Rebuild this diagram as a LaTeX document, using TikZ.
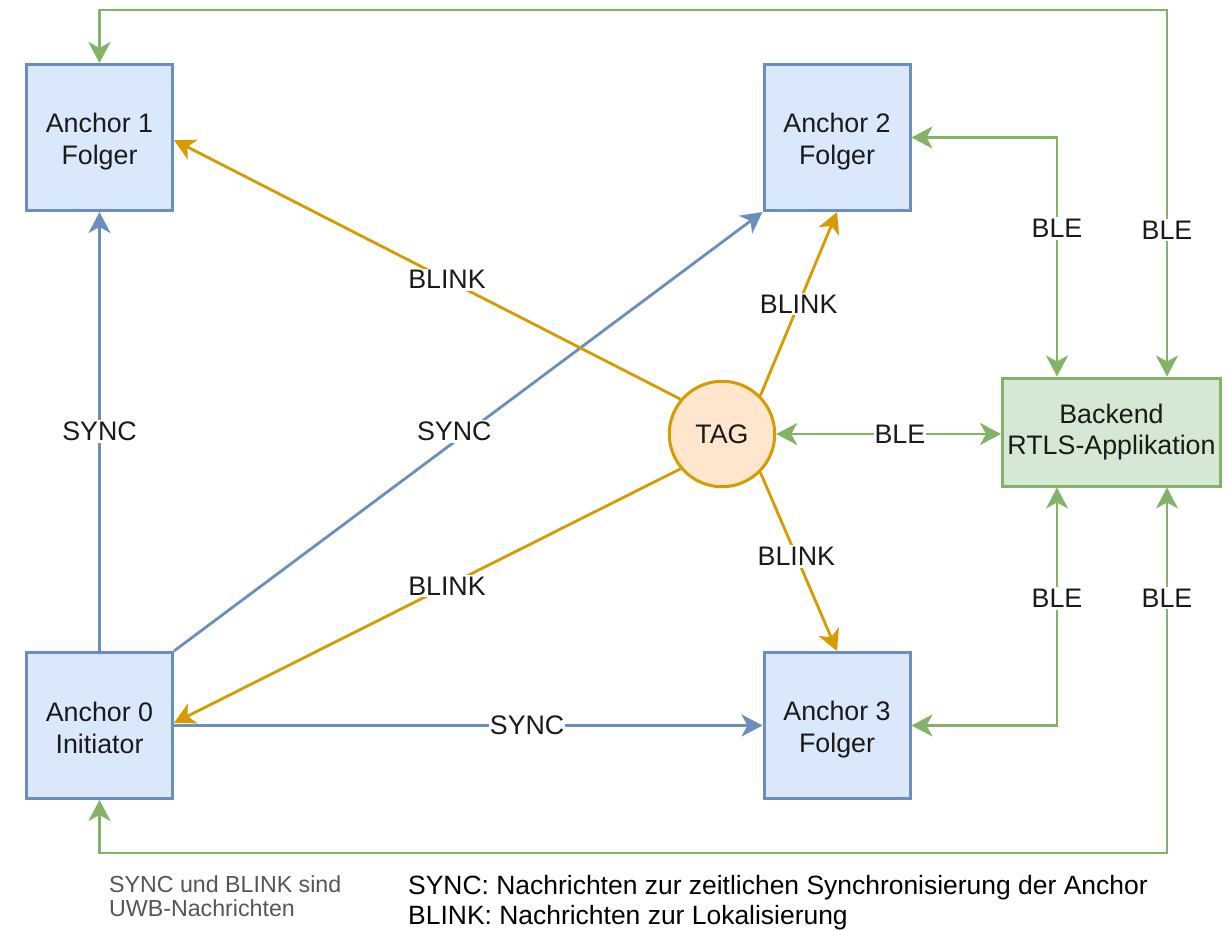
\documentclass[tikz,border=0pt]{standalone}
\usepackage{fontspec}
\setmainfont{Liberation Sans}
\usetikzlibrary{arrows.meta}

\definecolor{anchorfill}{HTML}{DAE8FC}
\definecolor{anchorline}{HTML}{6C8EBF}
\definecolor{appfill}{HTML}{D5E8D4}
\definecolor{appline}{HTML}{82B366}
\definecolor{tagfill}{HTML}{FFE6CC}
\definecolor{tagline}{HTML}{D79B00}
\definecolor{inktext}{HTML}{1A1A1A}
\definecolor{notegray}{HTML}{555555}

\newcommand*\diagfont{\fontsize{26.8pt}{31pt}\selectfont}
\newcommand*\anchorfont{\fontsize{26.8pt}{32pt}\selectfont}
\newcommand*\notefont{\fontsize{23.2pt}{24pt}\selectfont}
\newcommand*\legendfont{\fontsize{26.45pt}{30pt}\selectfont}
% fixed line box for the two-line anchor captions
\newcommand*\capline{\rule[-4pt]{0pt}{32pt}}

\begin{document}
\begin{tikzpicture}[
  x=1pt, y=-1pt,
  >={Stealth[length=21pt,width=22pt,inset=6pt]},
  anchorbox/.style={draw=anchorline, fill=anchorfill, line width=3pt,
    minimum width=146pt, minimum height=146pt, inner sep=0pt,
    align=center, font=\anchorfont, text=inktext},
  appbox/.style={draw=appline, fill=appfill, line width=3pt,
    minimum width=218pt, minimum height=108pt, inner sep=0pt,
    align=center, font=\diagfont, text=inktext},
  tagnode/.style={circle, draw=tagline, fill=tagfill, line width=3pt,
    minimum size=105.5pt, inner sep=0pt, font=\diagfont, text=inktext},
  syncedge/.style={->, draw=anchorline, line width=2.8pt},
  blinkedge/.style={->, draw=tagline, line width=2.8pt},
  bleedge/.style={<->, draw=appline, line width=2.8pt},
  lab/.style={fill=white, inner xsep=1pt, inner ysep=2pt,
    font=\diagfont, text=inktext},
  note/.style={anchor=base west, inner sep=0pt, font=\notefont, text=notegray},
  legend/.style={anchor=base west, inner sep=0pt, font=\legendfont, text=black},
]
\useasboundingbox (0,0) rectangle (1228,930);

% anchors, tag and backend
\node[anchorbox] (a1) at (99.5,137.5) {\capline Anchor 1\\\capline Folger};
\node[anchorbox] (a2) at (837,137.5) {\capline Anchor 2\\\capline Folger};
\node[anchorbox] (a0) at (99.5,725.5) {\capline Anchor 0\\\capline Initiator};
\node[anchorbox] (a3) at (837,725.5) {\capline Anchor 3\\\capline Folger};
\node[tagnode] (tag) at (722,434) {TAG};
\node[appbox] (be) at (1111.5,432) {Backend\\RTLS-Applikation};

% routing points for the BLE links
\coordinate (bx1) at (1057,432);
\coordinate (topc) at (1167,10);
\coordinate (botc) at (1167,853);

% SYNC messages from the initiator
\draw[syncedge] (a0.north) -- node[lab] (s1) {SYNC} (a1.south);
\draw[syncedge] (a0.north east) -- node[lab, pos=0.5, xshift=-14pt] (s2) {SYNC} (a2.south west);
\draw[syncedge] (a0.east) -- node[lab, pos=0.6] (s3) {SYNC} (a3.west);

% BLINK messages from the tag
\draw[blinkedge] (tag.140) -- node[lab, pos=0.461] (b1) {BLINK} (a1.-2);
\draw[blinkedge] (tag.220) -- node[lab, pos=0.461] (b0) {BLINK} (a0.2);
\draw[blinkedge] (tag.45) -- node[lab, pos=0.5] (b2) {BLINK} (a2.south);
\draw[blinkedge] (tag.-45) -- node[lab, pos=0.47] (b3) {BLINK} (a3.north);

% BLE links to the backend
\draw[bleedge] (tag.east) -- node[lab, pos=0.55] (e0) {BLE} (tag.east -| be.west);
\draw[bleedge] (a2.east) -| node[lab, pos=0.69] (e2) {BLE} (be.north -| bx1);
\draw[bleedge] (a3.east) -| node[lab, pos=0.767] (e3) {BLE} (be.south -| bx1);
\draw[bleedge] (a1.north) |- (topc) -- node[lab, pos=0.6] (e1) {BLE} (be.north -| topc);
\draw[bleedge] (a0.south) |- (botc) -- node[lab, pos=0.697] (e4) {BLE} (be.south -| botc);

% notes below the diagram
\node[note] (n1) at (109,892) {SYNC und BLINK sind};
\node[note] (n2) at (109,916) {UWB-Nachrichten};
\node[legend] (l1) at (408,894) {SYNC: Nachrichten zur zeitlichen Synchronisierung der Anchor};
\node[legend] (l2) at (408,924) {BLINK: Nachrichten zur Lokalisierung};
\end{tikzpicture}
\end{document}
